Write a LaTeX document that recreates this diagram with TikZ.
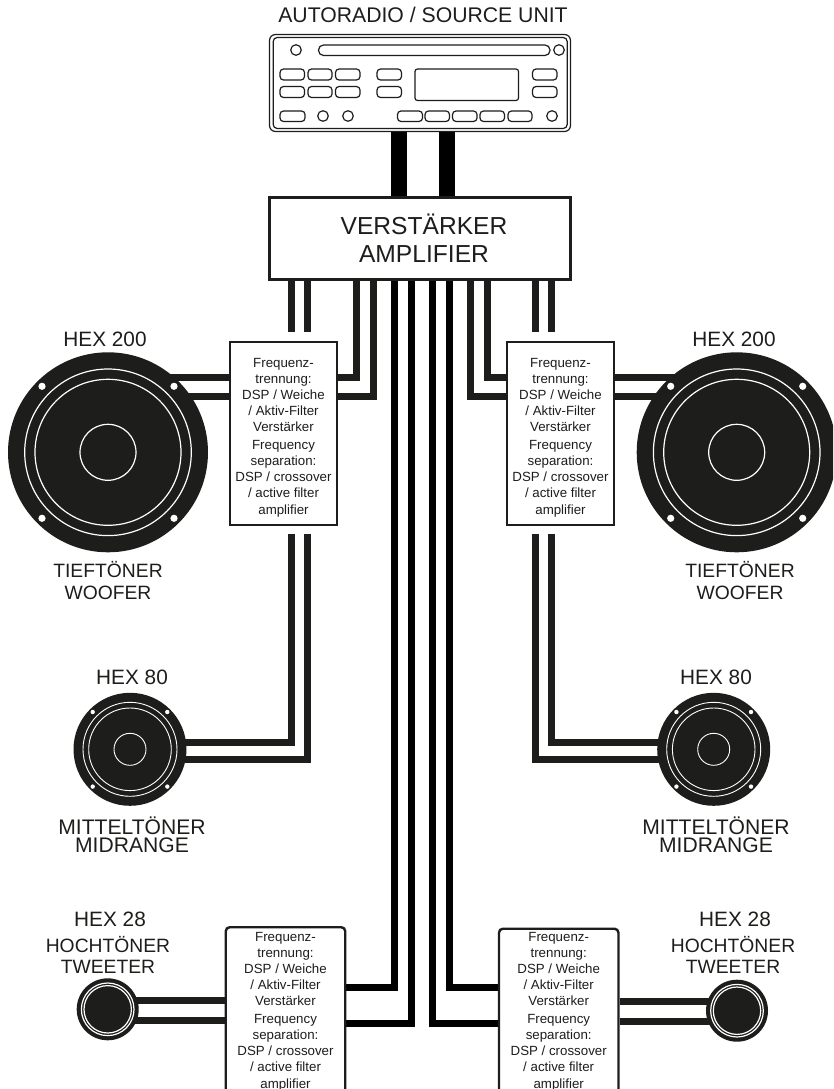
\documentclass[tikz,border=0pt]{standalone}
\usepackage{fontspec}
\setmainfont{Liberation Sans}
\usetikzlibrary{backgrounds}
\definecolor{ink}{HTML}{1D1D1B}
\newcommand{\ftext}{Frequenz-\\trennung:\\DSP / Weiche\\/ Aktiv-Filter\\Verstärker\\[1.8pt]Frequency\\separation:\\DSP / crossover\\/ active filter\\amplifier}
\tikzset{
  lbl/.style={anchor=base,text=ink,inner sep=0pt,font=\fontsize{20.8pt}{22pt}\selectfont},
  lblb/.style={lbl,font=\fontsize{19.3pt}{21pt}\selectfont},
  lblm/.style={lbl,font=\fontsize{21.1pt}{22pt}\selectfont},
  wire/.style={draw=ink,line width=7pt,line cap=butt,miter limit=10},
  lwire/.style={draw=black,line width=7pt,line cap=butt,miter limit=10},
  feed/.style={draw=black,line width=16pt,line cap=butt},
  ampbox/.style={draw=ink,line width=3pt,fill=white,rectangle,inner sep=0pt,minimum width=300.5pt,minimum height=82.5pt},
  fbox/.style={draw=ink,line width=2.4pt,fill=white,rectangle,inner sep=0pt,minimum width=107pt,minimum height=183pt},
  sbox/.style={draw=ink,line width=2.4pt,fill=white,rectangle,rounded corners=4pt,inner sep=0pt,minimum width=119.5pt,minimum height=200pt},
  ftxt/.style={text=ink,inner sep=0pt,align=center,font=\fontsize{13.3pt}{16.1pt}\selectfont},
  spk/.style={circle,fill=ink,inner sep=0pt,minimum size=#1},
  ring/.style={draw=white,line width=1.2pt},
  hole/.style={fill=white,draw=none},
  part/.style={draw=ink,line width=1.2pt,fill=white},
  btn/.style={part,rounded corners=3.5pt},
}
\begin{document}
\begin{tikzpicture}[x=1pt,y=-1pt]
\clip (0,0) rectangle (833,1089);

% ---------- head unit
\node[draw=ink,line width=1.2pt,fill=white,rectangle,rounded corners=6pt,inner sep=0pt,minimum width=301pt,minimum height=97pt] (radio) at (420,83) {};
\draw[ink,line width=1.2pt,rounded corners=4pt] (273.2,37.5) rectangle (567.2,128.5);
\node[lbl,font=\fontsize{21.2pt}{23pt}\selectfont] (title) at (423,23) {AUTORADIO / SOURCE UNIT};
\draw[part] (296,50) circle[radius=5.3pt];
\draw[part] (559,50) circle[radius=5.3pt];
\draw[part,rounded corners=5pt] (318.5,45) rectangle (550,55.5);
\foreach \a/\b in {280/304.5,308/332,335.5/360,377/401.5,532.5/557}{
  \draw[btn] (\a,69) rectangle (\b,80);
  \draw[btn] (\a,86.5) rectangle (\b,97.5);
}
\draw[part,rounded corners=2.5pt] (415,69) rectangle (518.5,100.5);
\foreach \a/\b in {280/305,397.5/422.5,425/449.5,452.5/477,480/504.5,508/532}{
  \draw[btn] (\a,111) rectangle (\b,121.5);
}
\foreach \cx in {323,348,552}{\draw[part] (\cx,116) circle[radius=5.3pt];}

% ---------- boxes
\node[ampbox] (amp) at (420.2,238.5) {};
\node[lbl,font=\fontsize{24.6pt}{26pt}\selectfont] (ampa) at (424,234) {VERSTÄRKER};
\node[lbl,font=\fontsize{24.6pt}{26pt}\selectfont] (ampb) at (424,262) {AMPLIFIER};

\node[fbox] (fl) at (283.5,433.5) {};
\node[ftxt] (flt) at (283.5,437.5) {\ftext};
\node[fbox] (fr) at (560.5,433.5) {};
\node[ftxt] (frt) at (560.5,437.5) {\ftext};
\node[sbox,anchor=north] (sl) at (285.5,926) {};
\node[ftxt] (slt) at (285.5,1011.5) {\ftext};
\node[sbox,anchor=north] (sr) at (558.7,927.5) {};
\node[ftxt] (srt) at (558.7,1011.5) {\ftext};

% ---------- speakers
\node[spk=200pt] (wl) at (108,452.3) {};
\node[spk=200pt] (wr) at (736.7,452.3) {};
\node[spk=113pt] (ml) at (130,749.3) {};
\node[spk=113pt] (mr) at (713.7,749.3) {};
\node[spk=62pt] (tl) at (107.7,1009.3) {};
\node[spk=62pt] (tr) at (737,1010.7) {};
\foreach \n in {wl,wr}{
  \draw[ring] (\n.center) circle[radius=83.3pt];
  \draw[ring] (\n.center) circle[radius=73pt];
  \draw[ring] (\n.center) circle[radius=28pt];
  \foreach \dx/\dy in {-66/-66,66/-66,-66/66,66/66}
    \fill[hole] (\n.center) ++(\dx,\dy) circle[radius=3.6pt];
}
\foreach \n in {ml,mr}{
  \draw[ring,line width=.9pt] (\n.center) circle[radius=47pt];
  \draw[ring,line width=.9pt] (\n.center) circle[radius=41.3pt];
  \draw[ring,line width=.9pt] (\n.center) circle[radius=16pt];
  \foreach \dx/\dy in {-37.3/-37.3,37.3/-37.3,-37.3/37.3,37.3/37.3}
    \fill[hole] (\n.center) ++(\dx,\dy) circle[radius=2.2pt];
}
\foreach \n in {tl,tr}{
  \draw[ring] (\n.center) circle[radius=26.3pt];
  \draw[ring] (\n.center) circle[radius=23.7pt];
}

% ---------- wire guide lines
\coordinate (fa) at (291.5,332);  \coordinate (fb) at (307.7,332);
\coordinate (fc) at (535,332);    \coordinate (fd) at (551,332);
\coordinate (ga) at (291.5,534);  \coordinate (gb) at (307.7,534);
\coordinate (gc) at (535,534);    \coordinate (gd) at (551,534);
\coordinate (xa) at (356.5,0);    \coordinate (xb) at (373.5,0);
\coordinate (xc) at (470.5,0);    \coordinate (xd) at (487.5,0);
\coordinate (la) at (394.5,0);    \coordinate (lb) at (411.5,0);
\coordinate (lc) at (432.5,0);    \coordinate (ld) at (449.5,0);
\coordinate (ya) at (0,377);      \coordinate (yb) at (0,396.8);
\coordinate (ma) at (0,742);      \coordinate (mb) at (0,759.5);
\coordinate (sa) at (0,987);      \coordinate (sb) at (0,1023);
\coordinate (ta) at (0,1000);     \coordinate (tb) at (0,1020);
\coordinate (ua) at (0,1001.5);   \coordinate (ub) at (0,1021.5);
\coordinate (pa) at (399,0);      \coordinate (pb) at (447,0);

\begin{scope}[on background layer]
  % head unit to amplifier
  \draw[feed] (pa |- radio.south) -- (pa |- amp.north);
  \draw[feed] (pb |- radio.south) -- (pb |- amp.north);
  % amplifier to upper filters
  \draw[wire] (fa |- amp.south) -- (fa);
  \draw[wire] (fb |- amp.south) -- (fb);
  \draw[wire] (fc |- amp.south) -- (fc);
  \draw[wire] (fd |- amp.south) -- (fd);
  \draw[wire] (xa |- amp.south) |- (fl.east |- ya);
  \draw[wire] (xb |- amp.south) |- (fl.east |- yb);
  \draw[wire] (xd |- amp.south) |- (fr.west |- ya);
  \draw[wire] (xc |- amp.south) |- (fr.west |- yb);
  % upper filters to woofers
  \draw[wire] (fl.west |- ya) -- (wl.center |- ya);
  \draw[wire] (fl.west |- yb) -- (wl.center |- yb);
  \draw[wire] (fr.east |- ya) -- (wr.center |- ya);
  \draw[wire] (fr.east |- yb) -- (wr.center |- yb);
  % upper filters to midrange
  \draw[wire] (ga) |- (ml.center |- ma);
  \draw[wire] (gb) |- (ml.center |- mb);
  \draw[wire] (gd) |- (mr.center |- ma);
  \draw[wire] (gc) |- (mr.center |- mb);
  % amplifier to lower filters
  \draw[lwire] (la |- amp.south) |- (sl.east |- sa);
  \draw[lwire] (lb |- amp.south) |- (sl.east |- sb);
  \draw[lwire] (ld |- amp.south) |- (sr.west |- sa);
  \draw[lwire] (lc |- amp.south) |- (sr.west |- sb);
  % lower filters to tweeters
  \draw[wire] (sl.west |- ta) -- (tl.center |- ta);
  \draw[wire] (sl.west |- tb) -- (tl.center |- tb);
  \draw[wire] (sr.east |- ua) -- (tr.center |- ua);
  \draw[wire] (sr.east |- ub) -- (tr.center |- ub);
\end{scope}

% ---------- labels
\node[lbl] (h1) at (105,346) {HEX 200};
\node[lbl] (h2) at (734,346) {HEX 200};
\node[lblb] (t1) at (108,577.6) {TIEFTÖNER};
\node[lblb] (w1) at (108,599) {WOOFER};
\node[lblb] (t2) at (740,577.6) {TIEFTÖNER};
\node[lblb] (w2) at (740,599) {WOOFER};
\node[lbl] (h3) at (132,684.5) {HEX 80};
\node[lbl] (h4) at (716,684.5) {HEX 80};
\node[lblm] (m1) at (132,834.5) {MITTELTÖNER};
\node[lblm] (m2) at (132,852.5) {MIDRANGE};
\node[lblm] (m3) at (716,834.5) {MITTELTÖNER};
\node[lblm] (m4) at (716,852.5) {MIDRANGE};
\node[lbl] (h5) at (110,926.5) {HEX 28};
\node[lblb] (c1) at (108,952) {HOCHTÖNER};
\node[lblb] (d1) at (108,973) {TWEETER};
\node[lbl] (h6) at (735,926.5) {HEX 28};
\node[lblb] (c2) at (733,952) {HOCHTÖNER};
\node[lblb] (d2) at (733,973) {TWEETER};
\end{tikzpicture}
\end{document}
